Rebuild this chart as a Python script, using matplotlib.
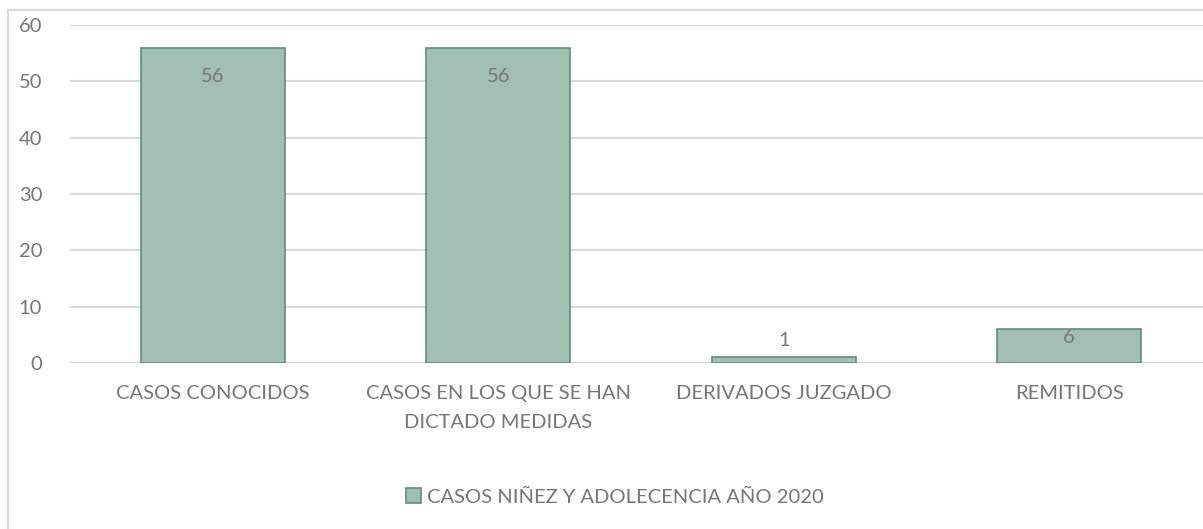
import matplotlib.pyplot as plt
from matplotlib.patches import Rectangle

plt.rcParams['font.family'] = ['Lato', 'DejaVu Sans']

categorias = ['CASOS CONOCIDOS', 'CASOS EN LOS QUE SE HAN\nDICTADO MEDIDAS',
              'DERIVADOS JUZGADO', 'REMITIDOS']
casos = [56, 56, 1, 6]
serie = 'CASOS NIÑEZ Y ADOLECENCIA AÑO 2020'

gris = '#767676'
relleno = '#a2bfb2'
borde = '#5f8f7c'
tam = 14.5

fig = plt.figure(figsize=(12.03, 5.29), dpi=100)
# marco exterior del grafico (recortado a la derecha y abajo)
fig.patches.append(Rectangle((8 / 1203, -0.1), 1.2, 1 - 10 / 529 + 0.1,
                             transform=fig.transFigure, fill=False,
                             edgecolor='#d9d9d9', linewidth=1.5))

ax = fig.add_axes([70 / 1203, 1 - 363 / 529, 1142 / 1203, 338 / 529])
x = range(len(categorias))
barras = ax.bar(x, casos, width=0.505, color=relleno, edgecolor=borde,
                linewidth=1.2, label=serie, zorder=3)

ax.set_xlim(-0.5, len(categorias) - 0.5)
ax.set_ylim(0, 60)
ax.set_yticks(range(0, 61, 10))
ax.grid(axis='y', color='#d9d9d9', linewidth=1.5, zorder=0)
for s in ax.spines.values():
    s.set_visible(False)
ax.tick_params(length=0, labelsize=tam, labelcolor=gris)
ax.tick_params(axis='y', pad=20)
ax.tick_params(axis='x', pad=16)
ax.set_xticks(list(x))
ax.set_xticklabels(categorias, linespacing=1.85)

# etiquetas de datos (dentro del extremo cuando caben)
for b, v in zip(barras, casos):
    cx = b.get_x() + b.get_width() / 2
    if v > 10:
        ax.annotate(str(v), (cx, v), xytext=(0, -15), textcoords='offset points',
                    ha='center', va='top', fontsize=tam, color=gris, zorder=4)
    elif v < 3:
        ax.annotate(str(v), (cx, v), xytext=(0, 6), textcoords='offset points',
                    ha='center', va='bottom', fontsize=tam, color=gris, zorder=4)
    else:
        ax.annotate(str(v), (cx, v), xytext=(0, 0), textcoords='offset points',
                    ha='center', va='top', fontsize=tam, color=gris, zorder=4)

fig.legend(handles=[barras], labels=[serie], loc='center',
           bbox_to_anchor=(615 / 1203, 1 - 497 / 529), frameon=False,
           fontsize=tam, labelcolor=gris, handlelength=0.75, handleheight=0.75,
           handletextpad=0.3)

fig.savefig('out.png', dpi=100)
